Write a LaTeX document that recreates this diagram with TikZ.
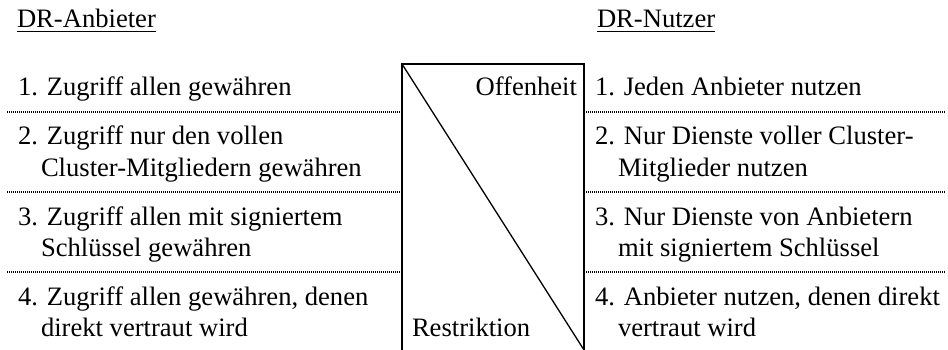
\documentclass[tikz,border=0pt]{standalone}
\usepackage{fontspec}
\setmainfont{Liberation Serif}
\begin{document}
\begin{tikzpicture}[x=1pt,y=-1pt,
  txt/.style={anchor=base west,inner sep=0pt,outer sep=0pt,font=\fontsize{26.6}{30.6}\selectfont},
  sep/.style={line width=1.3pt,dash pattern=on 1pt off 1pt},
  frame/.style={line width=2pt},
  diag/.style={line width=1.3pt}]
\useasboundingbox (0,0) rectangle (948,350);
% titles
\node[txt] (ta) at (17,28) {DR-Anbieter};
\node[txt] (tn) at (597,28) {DR-Nutzer};
\draw[line width=1.8pt] ([yshift=-3.5pt]ta.base west) -- ([yshift=-3.5pt]ta.base east);
\draw[line width=1.8pt] ([yshift=-3.5pt]tn.base west) -- ([yshift=-3.5pt]tn.base east);
% box
\coordinate (bl) at (402,350);
\coordinate (tl) at (402,64);
\coordinate (tr) at (584,64);
\coordinate (br) at (584,350);
\draw[frame] (bl) -- (tl) -- (tr) -- (br);
\draw[diag] (tl) -- (br);
\node[txt,anchor=base east] (off) at (577,96) {Offenheit};
\node[txt] (res) at (412,336) {Restriktion};
% separators
\foreach \y/\n in {112/a,192/b,272/c}{
  \coordinate (L\n1) at (7,\y);
  \coordinate (L\n2) at (400,\y);
  \coordinate (R\n1) at (586,\y);
  \coordinate (R\n2) at (946,\y);
  \draw[sep] (L\n1) -- (L\n2);
  \draw[sep] (R\n1) -- (R\n2);
}
% left column
\node[txt] (l1) at (18,96) {1. Zugriff allen gewähren};
\node[txt] (l2a) at (18,145) {2. Zugriff nur den vollen};
\node[txt] (l2b) at (41,176) {Cluster-Mitgliedern gewähren};
\node[txt] (l3a) at (18,225) {3. Zugriff allen mit signiertem};
\node[txt] (l3b) at (41,256) {Schlüssel gewähren};
\node[txt] (l4a) at (18,305) {4. Zugriff allen gewähren, denen};
\node[txt] (l4b) at (41,336) {direkt vertraut wird};
% right column
\node[txt] (r1) at (595,96) {1. Jeden Anbieter nutzen};
\node[txt] (r2a) at (595,145) {2. Nur Dienste voller Cluster-};
\node[txt] (r2b) at (618,176) {Mitglieder nutzen};
\node[txt] (r3a) at (595,225) {3. Nur Dienste von Anbietern};
\node[txt] (r3b) at (618,256) {mit signiertem Schlüssel};
\node[txt] (r4a) at (595,305) {4. Anbieter nutzen, denen direkt};
\node[txt] (r4b) at (618,336) {vertraut wird};
\end{tikzpicture}
\end{document}
